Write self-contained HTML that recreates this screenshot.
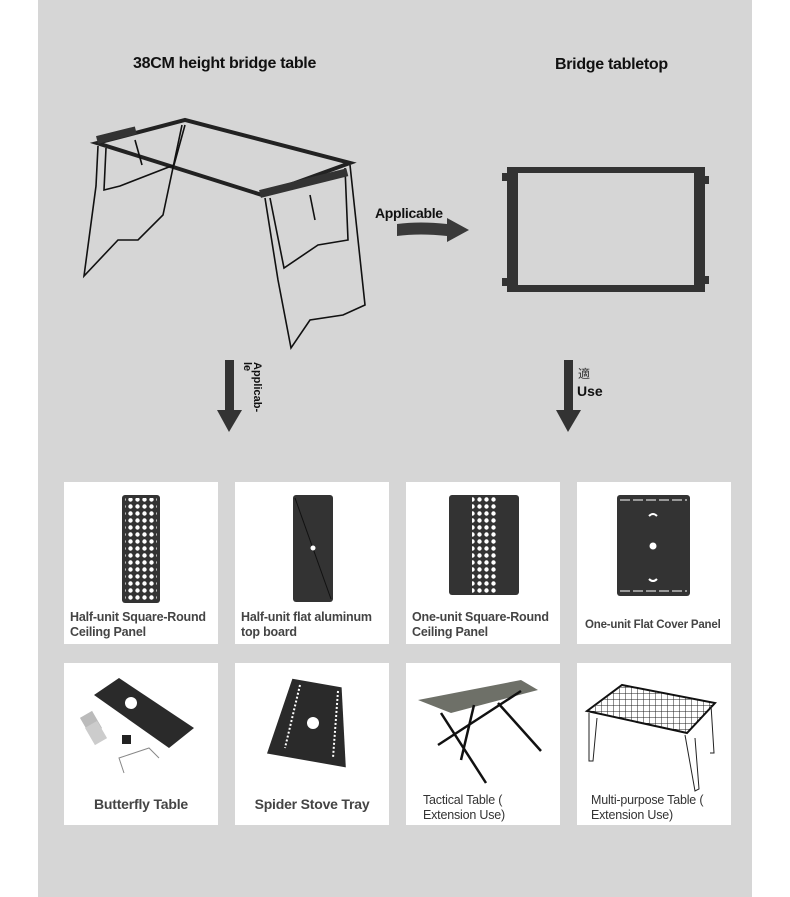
<!DOCTYPE html>
<html><head><meta charset="utf-8"><style>
*{margin:0;padding:0;box-sizing:border-box}
body{width:790px;height:897px;background:#fff;position:relative;overflow:hidden;font-family:"Liberation Sans",sans-serif}
#bg{position:absolute;left:38px;top:0;width:714px;height:897px;background:#d6d6d6}
.t{position:absolute;font-weight:bold;color:#111;white-space:nowrap}
.card{position:absolute;background:#fff;width:154px;height:162px}
.lab{position:absolute;left:6px;font-weight:bold;color:#444;font-size:12.5px;line-height:15px;letter-spacing:-0.2px}
svg{position:absolute;left:0;top:0}
</style></head><body>
<div id="bg"></div>
<div class="t" style="left:133px;top:55px;font-size:16px;letter-spacing:-0.3px">38CM height bridge table</div>
<div class="t" style="left:555px;top:56px;font-size:16px;letter-spacing:-0.3px">Bridge tabletop</div>
<div class="t" style="left:375px;top:205px;font-size:14px;letter-spacing:-0.3px">Applicable</div>
<div class="t" style="left:246px;top:362px;font-size:11px;transform:rotate(90deg);transform-origin:0 0;left:262px;line-height:10px">Applicab-<br>le</div>
<div class="t" style="left:578px;top:365px;font-size:12px;color:#333;font-family:'Liberation Sans','Noto Sans CJK SC',sans-serif;font-weight:normal">適</div>
<div class="t" style="left:577px;top:383px;font-size:14px">Use</div>

<svg width="790" height="897">
 <!-- table -->
 <g fill="none" stroke="#111" stroke-width="1.6">
  <polygon points="97,143 185,120 350,163 262,195" stroke-width="4" stroke="#222"/>
  <polyline points="98,146 96,186 84,276 118,240 138,240 163,215 182,125"/>
  <polyline points="106,148 104,190 120,186 174,165 185,125"/>
  <polyline points="265,198 278,280 291,348 310,320 343,315 365,305 350,165"/>
  <polyline points="270,198 284,268 318,245 348,240 345,168"/>
  <line x1="135" y1="140" x2="142" y2="165"/>
  <line x1="310" y1="195" x2="315" y2="220"/>
 </g>
 <rect x="97" y="136" width="40" height="8" fill="#333" transform="rotate(-14 97 140)"/>
 <rect x="260" y="190" width="90" height="8" fill="#333" transform="rotate(-14 260 194)"/>
 <!-- tabletop -->
 <rect x="507" y="167" width="198" height="125" fill="#333"/>
 <rect x="518" y="173" width="176" height="112" fill="#d6d6d6"/>
 <rect x="502" y="173" width="5" height="8" fill="#333"/><rect x="502" y="278" width="5" height="8" fill="#333"/>
 <rect x="705" y="176" width="4" height="8" fill="#333"/><rect x="705" y="276" width="4" height="8" fill="#333"/>
 <!-- right arrow -->
 <path d="M397,224 Q420,221 447,224 L447,218 L469,230 L447,242 L447,236 Q420,233 397,236Z" fill="#3a3a3a"/>
 <!-- down arrows -->
 <rect x="225" y="360" width="9" height="50" fill="#333"/><polygon points="217,410 242,410 229,432" fill="#333"/>
 <rect x="564" y="360" width="9" height="50" fill="#333"/><polygon points="556,410 581,410 568,432" fill="#333"/>
</svg>

<div class="card" style="left:64px;top:482px"><svg width="154" height="162"><defs><pattern id="p" width="7" height="7" patternUnits="userSpaceOnUse"><circle cx="3.5" cy="3.5" r="2.2" fill="#fff"/></pattern></defs><rect x="58" y="13" width="38" height="108" rx="3" fill="#333"/><rect x="61" y="16" width="32" height="102" fill="url(#p)"/></svg><div class="lab" style="top:128px">Half-unit Square-Round<br>Ceiling Panel</div></div>
<div class="card" style="left:235px;top:482px"><svg width="154" height="162"><rect x="58" y="13" width="40" height="107" rx="3" fill="#333"/><line x1="60" y1="16" x2="96" y2="117" stroke="#111"/><circle cx="78" cy="66" r="2.5" fill="#fff"/></svg><div class="lab" style="top:128px">Half-unit flat aluminum<br>top board</div></div>
<div class="card" style="left:406px;top:482px"><svg width="154" height="162"><rect x="43" y="13" width="70" height="100" rx="3" fill="#333"/><rect x="66" y="15" width="24" height="96" fill="url(#p)"/></svg><div class="lab" style="top:128px">One-unit Square-Round<br>Ceiling Panel</div></div>
<div class="card" style="left:577px;top:482px"><svg width="154" height="162"><rect x="40" y="13" width="73" height="101" rx="3" fill="#333"/><line x1="43" y1="18" x2="110" y2="18" stroke="#fff" stroke-dasharray="10,3"/><line x1="43" y1="109" x2="110" y2="109" stroke="#fff" stroke-dasharray="10,3"/><circle cx="76" cy="64" r="3.5" fill="#fff"/><path d="M72,34 Q76,30 80,34" stroke="#fff" stroke-width="2" fill="none"/><path d="M72,97 Q76,101 80,97" stroke="#fff" stroke-width="2" fill="none"/></svg><div class="lab" style="top:136px;font-size:11.5px;left:8px">One-unit Flat Cover Panel</div></div>

<div class="card" style="left:64px;top:663px"><svg width="154" height="162"><polygon points="30,32 55,15 130,65 105,85" fill="#2a2a2a"/><circle cx="67" cy="40" r="6" fill="#fff"/><rect x="20" y="50" width="14" height="20" fill="#bbb" transform="rotate(-30 27 60)"/><rect x="25" y="60" width="14" height="20" fill="#ccc" transform="rotate(-30 32 70)"/><rect x="58" y="72" width="9" height="9" fill="#222"/><path d="M60,110 L55,95 L70,90 L85,85 L95,95" stroke="#888" fill="none"/></svg><div class="lab" style="top:134px;left:0;width:154px;text-align:center;font-size:14px">Butterfly Table</div></div>
<div class="card" style="left:235px;top:663px"><svg width="154" height="162"><polygon points="50,20 100,20 118,98 38,98" fill="#2a2a2a" transform="rotate(10 78 60)"/><circle cx="78" cy="60" r="6" fill="#fff"/><line x1="65" y1="22" x2="50" y2="85" stroke="#fff" stroke-dasharray="2,2" stroke-width="2"/><line x1="103" y1="28" x2="98" y2="95" stroke="#fff" stroke-dasharray="2,2" stroke-width="2"/></svg><div class="lab" style="top:134px;left:0;width:154px;text-align:center;font-size:14px">Spider Stove Tray</div></div>
<div class="card" style="left:406px;top:663px"><svg width="154" height="162"><polygon points="12,37 115,17 132,27 45,50" fill="#6e7068"/><g stroke="#111" stroke-width="2.5"><line x1="35" y1="50" x2="80" y2="120"/><line x1="68" y1="42" x2="55" y2="97"/><line x1="92" y1="40" x2="135" y2="88"/><line x1="115" y1="28" x2="32" y2="82"/></g></svg><div class="lab" style="top:130px;left:17px;font-weight:normal;color:#333">Tactical Table (<br>Extension Use)</div></div>
<div class="card" style="left:577px;top:663px"><svg width="154" height="162"><defs><pattern id="g" width="6" height="6" patternUnits="userSpaceOnUse"><path d="M0,0H6M0,0V6" stroke="#222" stroke-width="1"/></pattern></defs><polygon points="10,48 45,22 138,40 110,70" fill="url(#g)" stroke="#111" stroke-width="2"/><g stroke="#222" fill="none"><polyline points="12,50 12,98 16,98 20,55"/><polyline points="108,72 118,128 122,126 118,75"/><polyline points="134,42 137,90 133,90"/></g></svg><div class="lab" style="top:130px;left:14px;font-weight:normal;color:#333">Multi-purpose Table (<br>Extension Use)</div></div>
</body></html>
